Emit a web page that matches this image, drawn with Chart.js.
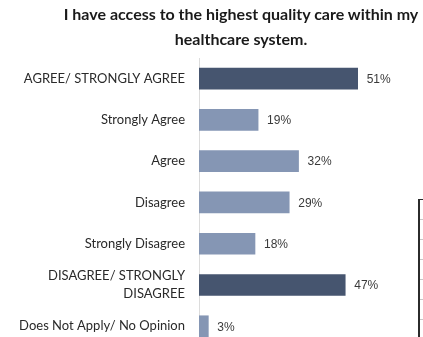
<!DOCTYPE html>
<html>
<head>
<meta charset="utf-8">
<script src="https://cdn.jsdelivr.net/npm/chart.js@4/dist/chart.umd.min.js"></script>
<style>
  html, body { margin: 0; padding: 0; background: #fff; overflow: hidden; }
  #wrap { position: relative; width: 423px; height: 370px; }
  #title {
    position: absolute; left: 21px; top: 1px; width: 440px;
    text-align: center; white-space: nowrap;
    font-family: Lato, "Open Sans", sans-serif; font-weight: bold;
    font-size: 16px; line-height: 25px; color: #1a1a1a;
  }
  #side {
    position: absolute; left: 418px; top: 199px; width: 10px; height: 150px;
    border-left: 2px solid #2b2b2b; border-top: 1px solid #2b2b2b;
    background: repeating-linear-gradient(to bottom, transparent 0, transparent 19px, #c8c8c8 19px, #c8c8c8 20px);
  }
</style>
</head>
<body>
<div id="wrap">
  <canvas id="myChart" width="423" height="370"></canvas>
  <div id="title"></div>
  <div id="side"></div>
</div>
<script>
const titleLines = ["I have access to the highest quality care within my", "healthcare system."];
const categories = [
  "AGREE/ STRONGLY AGREE",
  "Strongly Agree",
  "Agree",
  "Disagree",
  "Strongly Disagree",
  ["DISAGREE/ STRONGLY", "DISAGREE"],
  "Does Not Apply/ No Opinion"
];
const percentValues = [51, 19, 32, 29, 18, 47, 3];
const isTotal = [true, false, false, false, false, true, false];

const darkBar = "#46556f";
const lightBar = "#8596b4";

document.getElementById("title").innerHTML = titleLines.join("<br>");

const valueLabels = {
  id: "valueLabels",
  afterDatasetsDraw(chart) {
    let ctx = chart.ctx;
    let meta = chart.getDatasetMeta(0);
    ctx.save();
    ctx.font = "12px 'Liberation Sans', Arial, sans-serif";
    ctx.fillStyle = "#3a3a3a";
    ctx.textBaseline = "middle";
    meta.data.forEach((bar, i) => {
      ctx.fillText(percentValues[i] + "%", bar.x + 9, bar.y + 1);
    });
    ctx.restore();
  },
};

const ctx = document.getElementById("myChart");

new Chart(ctx, {
  type: "bar",
  data: {
    labels: categories,
    datasets: [
      {
        data: percentValues,
        backgroundColor: isTotal.map((t) => (t ? darkBar : lightBar)),
        barThickness: 21,
      },
    ],
  },
  options: {
    indexAxis: "y",
    responsive: false,
    animation: false,
    scales: {
      x: {
        display: false,
        min: 0,
        max: 72,
      },
      y: {
        afterFit: (scale) => {
          scale.width = 199;
        },
        grid: {
          display: false,
          drawTicks: false,
        },
        border: {
          display: true,
          color: "#dcdcdc",
          width: 1,
        },
        ticks: {
          padding: 14,
          color: "#2a2a2a",
          font: {
            family: "Lato, 'Open Sans', sans-serif",
            size: 13,
            lineHeight: 1.4,
          },
        },
      },
    },
    plugins: {
      legend: {
        display: false,
      },
      tooltip: {
        enabled: false,
      },
    },
    layout: {
      padding: {
        left: 0,
        right: 0,
        top: 58,
        bottom: 0,
      },
    },
  },
  plugins: [valueLabels],
});
</script>
</body>
</html>
